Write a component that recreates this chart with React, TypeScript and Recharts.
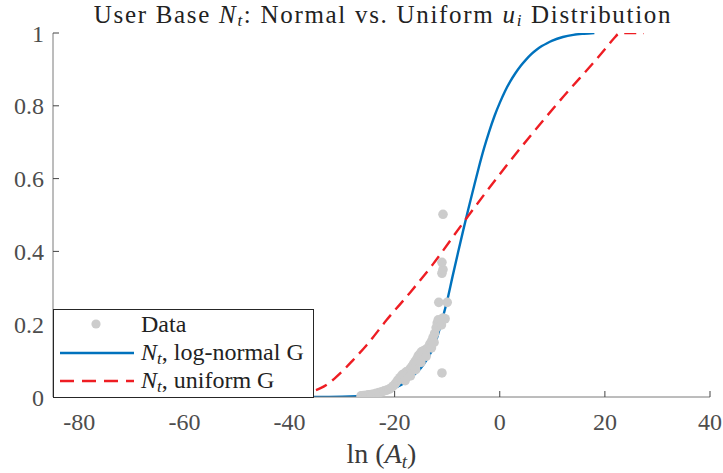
import React from 'react';
import { ComposedChart, Line, Scatter, XAxis, YAxis, Legend } from 'recharts';

// ---- tick values & labels ----
const xTicks = [-80, -60, -40, -20, 0, 20, 40];
const xTickLabels = ['-80', '-60', '-40', '-20', '0', '20', '40'];
const yTicks = [0, 0.2, 0.4, 0.6, 0.8, 1];
const yTickLabels = ['0', '0.2', '0.4', '0.6', '0.8', '1'];

// ---- observed data (ln A_t, N_t) ----
const dataX = [
  -26.4, -25.9, -25.4, -25.0, -24.5, -24.0, -23.5, -23.0, -22.5, -22.0,
  -21.5, -21.0, -20.6, -20.2, -19.8, -19.4, -19.0, -18.6, -18.2, -17.8,
  -17.4, -17.0, -16.7, -16.4, -16.1, -15.8, -15.5, -15.2, -14.9, -14.6,
  -14.3, -14.0, -13.6, -13.3, -13.0, -12.7, -12.4, -12.1, -11.9, -11.7,
  -11.4, -11.1, -10.8, -10.4, -11.6, -10.0, -11.0, -10.8, -11.0, -10.8,
  -11.0, -18.0, -17.0, -16.0, -15.0, -14.0, -13.0, -12.5,
];
const dataY = [
  0.003, 0.004, 0.005, 0.006, 0.007, 0.008, 0.010, 0.012, 0.014, 0.017,
  0.019, 0.022, 0.026, 0.031, 0.038, 0.046, 0.053, 0.060, 0.064, 0.069,
  0.072, 0.078, 0.084, 0.091, 0.097, 0.104, 0.113, 0.118, 0.124, 0.126,
  0.128, 0.131, 0.136, 0.145, 0.152, 0.163, 0.174, 0.190, 0.203, 0.212,
  0.205, 0.198, 0.217, 0.215, 0.260, 0.260, 0.340, 0.350, 0.370, 0.502,
  0.066, 0.045, 0.058, 0.075, 0.095, 0.112, 0.135, 0.150,
];

// ---- N_t, log-normal G ----
const logNormX = [
  -85, -35, -30, -25, -22, -20, -18, -16.5, -15, -14, -13, -12, -11, -10, -9,
  -8, -7, -6, -5, -4, -3, -2, -1, 0, 1, 2, 3, 4, 5, 6, 7, 8, 9, 10, 12, 14, 16, 18,
];
const logNormY = [
  0, 0, 0.001, 0.006, 0.015, 0.025, 0.04, 0.058, 0.08, 0.10, 0.125, 0.16, 0.21, 0.265, 0.33,
  0.393, 0.455, 0.515, 0.573, 0.63, 0.683, 0.73, 0.772, 0.808, 0.84, 0.867, 0.89, 0.91, 0.927, 0.942, 0.954, 0.964, 0.972, 0.979, 0.989, 0.995, 0.998, 1,
];

// ---- N_t, uniform G ----
const uniformX = [
  -42, -40, -38, -36.5, -35.5, -34, -33, -31.5, -30, -28, -25.3, -21.5, -17, -12.7,
  -7, 1.4, 10.9, 20.4, 21.7, 22.9, 27.4,
];
const uniformY = [
  0, 0.001, 0.004, 0.010, 0.016, 0.025, 0.033, 0.05, 0.07, 0.1, 0.143, 0.212, 0.288, 0.365,
  0.478, 0.638, 0.805, 0.962, 0.985, 1, 1,
];

const seriesNames = ['Data', 'log-normal G', 'uniform G'];

const scatterData = dataX.map((x, i) => ({ x, y: dataY[i] }));
const logNormData = logNormX.map((x, i) => ({ x, y: logNormY[i] }));
const uniformData = uniformX.map((x, i) => ({ x, y: uniformY[i] }));

const FONT = '"Liberation Serif", "Times New Roman", serif';
const AXIS = '#7a7a7a';
const TICKTXT = '#4d4d4d';
const BLUE = '#0072BD';
const RED = '#ee1d23';
const GRAY = '#cccccc';
const TL = 6;

const BottomTick = (p: any) => {
  const i = xTicks.indexOf(p.payload.value);
  return (
    <g>
      <line x1={p.x} x2={p.x} y1={p.y} y2={p.y - TL} stroke="#444" strokeWidth={1} />
      <text x={p.x} y={p.y + 33} textAnchor="middle" fontFamily={FONT} fontSize={24} fill={TICKTXT}>
        {xTickLabels[i]}
      </text>
    </g>
  );
};
const TopTick = (p: any) => (
  <line x1={p.x} x2={p.x} y1={p.y} y2={p.y + TL} stroke="#444" strokeWidth={1} />
);
const LeftTick = (p: any) => {
  const i = yTicks.indexOf(p.payload.value);
  return (
    <g>
      <line x1={p.x} x2={p.x + TL} y1={p.y} y2={p.y} stroke="#444" strokeWidth={1} />
      <text x={p.x - 9} y={p.y + 8.5} textAnchor="end" fontFamily={FONT} fontSize={24} fill={TICKTXT}>
        {yTickLabels[i]}
      </text>
    </g>
  );
};
const RightTick = (p: any) => (
  <line x1={p.x} x2={p.x - TL} y1={p.y} y2={p.y} stroke="#444" strokeWidth={1} />
);

const XLabel = (props: any) => {
  const vb = props.viewBox || { x: 53, width: 657 };
  const cx = vb.x + vb.width / 2;
  return (
    <text x={cx} y={463} textAnchor="middle" fontFamily={FONT} fontSize={28} fill="#3a3a3a">
      <tspan>ln</tspan>
      <tspan dx={7}>(</tspan>
      <tspan fontStyle="italic">A</tspan>
      <tspan fontStyle="italic" fontSize={19} dy={5}>t</tspan>
      <tspan dy={-5}>)</tspan>
    </text>
  );
};

const NtLabel = ({ x, y, rest }: { x: number; y: number; rest: string }) => (
  <text x={x} y={y} fontFamily={FONT} fontSize={24} fill="#222">
    <tspan fontStyle="italic">N</tspan>
    <tspan fontStyle="italic" fontSize={17} dy={4}>t</tspan>
    <tspan dy={-4}>{', ' + rest}</tspan>
  </text>
);

const LegendBox = () => (
  <svg width={261} height={89} style={{ display: 'block' }}>
    <rect x={0.5} y={0.5} width={260} height={88} fill="#fff" stroke="#262626" strokeWidth={1} />
    <circle cx={43} cy={15} r={4.6} fill={GRAY} />
    <text x={88} y={23} fontFamily={FONT} fontSize={24} fill="#222">{seriesNames[0]}</text>
    <line x1={7} x2={81} y1={44} y2={44} stroke={BLUE} strokeWidth={2.4} />
    <NtLabel x={88} y={51} rest={seriesNames[1]} />
    <line x1={7} x2={81} y1={72} y2={72} stroke={RED} strokeWidth={2.4} strokeDasharray="14 8" />
    <NtLabel x={88} y={79} rest={seriesNames[2]} />
  </svg>
);

const Dot = (p: any) => <circle cx={p.cx} cy={p.cy} r={4.8} fill={GRAY} />;

export default function App() {
  return (
    <div style={{ position: 'absolute', left: 0, top: 0, width: 723, height: 473, background: '#fff' }}>
      <svg width={723} height={32} style={{ position: 'absolute', left: 0, top: 0 }}>
        <text x={383} y={22.5} textAnchor="middle" fontFamily={FONT} fontSize={25} letterSpacing={1.7} fill="#222">
          <tspan>User Base </tspan>
          <tspan fontStyle="italic">N</tspan>
          <tspan fontStyle="italic" fontSize={17} dy={3}>t</tspan>
          <tspan dy={-3}>: Normal vs. Uniform </tspan>
          <tspan fontStyle="italic">u</tspan>
          <tspan fontStyle="italic" fontSize={17} dy={3}>i</tspan>
          <tspan dy={-3}> Distribution</tspan>
        </text>
      </svg>
      <ComposedChart width={723} height={473} margin={{ top: 33, right: 13, bottom: 0, left: 0 }}>
        <XAxis
          xAxisId="b" type="number" dataKey="x" domain={[-85, 40]} ticks={xTicks} interval={0}
          allowDataOverflow height={76} tickSize={0} tickMargin={0} tickLine={false}
          tick={(p: any) => <BottomTick {...p} />} axisLine={{ stroke: AXIS }} label={<XLabel />}
        />
        <XAxis
          xAxisId="t" orientation="top" type="number" dataKey="x" domain={[-85, 40]} ticks={xTicks} interval={0}
          allowDataOverflow height={0} tickSize={0} tickMargin={0} tickLine={false}
          tick={(p: any) => <TopTick {...p} />} axisLine={{ stroke: AXIS }}
        />
        <YAxis
          yAxisId="l" type="number" dataKey="y" domain={[0, 1]} ticks={yTicks} interval={0}
          allowDataOverflow width={53} tickSize={0} tickMargin={0} tickLine={false}
          tick={(p: any) => <LeftTick {...p} />} axisLine={{ stroke: AXIS }}
        />
        <YAxis
          yAxisId="r" orientation="right" type="number" dataKey="y" domain={[0, 1]} ticks={yTicks} interval={0}
          allowDataOverflow width={0} tickSize={0} tickMargin={0} tickLine={false}
          tick={(p: any) => <RightTick {...p} />} axisLine={{ stroke: AXIS }}
        />
        <Scatter xAxisId="b" yAxisId="l" data={scatterData} dataKey="y" name={seriesNames[0]}
          shape={(p: any) => <Dot {...p} />} isAnimationActive={false} />
        <Line xAxisId="b" yAxisId="l" data={logNormData} dataKey="y" type="monotone" stroke={BLUE}
          strokeWidth={2.4} dot={false} activeDot={false} isAnimationActive={false} name={seriesNames[1]} />
        <Line xAxisId="b" yAxisId="l" data={uniformData} dataKey="y" type="monotone" stroke={RED}
          strokeWidth={2.4} strokeDasharray="12 7" dot={false} activeDot={false} isAnimationActive={false} name={seriesNames[2]} />
        <Scatter xAxisId="t" yAxisId="r" data={[{ x: -85, y: 0 }]} dataKey="y" shape={() => <g />} legendType="none" isAnimationActive={false} />
        <Legend
          layout="horizontal" verticalAlign="middle" align="center"
          content={() => <LegendBox />}
          wrapperStyle={{ position: 'absolute', left: 53, top: 309, width: 261, height: 89, margin: 0, padding: 0 }}
        />
      </ComposedChart>
    </div>
  );
}
